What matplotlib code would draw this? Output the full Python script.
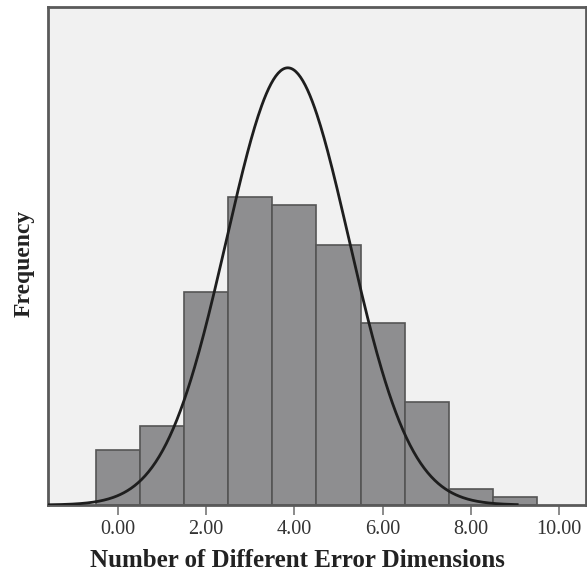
import numpy as np
import matplotlib
matplotlib.use("Agg")
import matplotlib.pyplot as plt

# Data
bin_centers = [0, 1, 2, 3, 4, 5, 6, 7, 8, 9]
frequencies = [7, 10, 27, 39, 38, 33, 23, 13, 2, 1]
tick_values = [0, 2, 4, 6, 8, 10]
tick_labels = ["0.00", "2.00", "4.00", "6.00", "8.00", "10.00"]
curve_mean = 3.85
curve_sd = 1.39
curve_n = 193

plt.rcParams['font.family'] = ['Liberation Serif', 'DejaVu Serif']

fig = plt.figure(figsize=(5.87, 5.72), dpi=100)
ax = fig.add_axes([48/587, 67/572, 538/587, 498/572])
ax.set_facecolor("#f1f1f1")

ax.bar(bin_centers, frequencies, width=1.0, color="#8e8e90", edgecolor="#555555",
       linewidth=1.2, zorder=2)

xs = np.linspace(-1.6, 9.05, 400)
ys = curve_n * 1.0 / (curve_sd * np.sqrt(2 * np.pi)) * np.exp(-(xs - curve_mean) ** 2 / (2 * curve_sd ** 2))
ax.plot(xs, ys, color="#1e1e1e", linewidth=2.0, zorder=3)

ax.set_xlim(-1.585, 10.61)
ax.set_ylim(0, 63.1)
ax.set_xticks(tick_values)
ax.set_xticklabels(tick_labels, fontsize=14.5, color="#333333")
ax.set_yticks([])
ax.tick_params(axis="x", length=7, width=1.2, color="#777777", pad=4)

for s in ax.spines.values():
    s.set_color("#5a5a5a")
    s.set_linewidth(2.0)

ax.set_xlabel("Number of Different Error Dimensions", fontsize=18, fontweight="bold",
              color="#222222", labelpad=6)
ax.xaxis.set_label_coords(249/538, -0.088)
ax.set_ylabel("Frequency", fontsize=17, fontweight="bold", color="#222222")
ax.yaxis.set_label_coords(-0.024, 0.485)

fig.savefig("out.png", dpi=100)
